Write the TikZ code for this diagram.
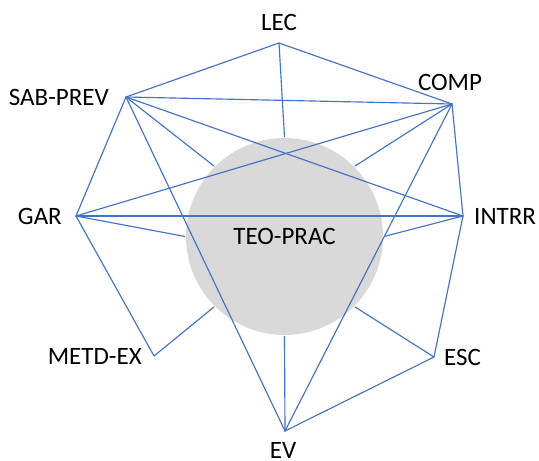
\documentclass[tikz,border=0pt]{standalone}
\usepackage{fontspec}
\setmainfont{Carlito}
\usepackage{tkz-euclide}
\definecolor{edgeblue}{HTML}{4472C4}
\definecolor{discgray}{HTML}{D9D9D9}
\tikzset{
  lbl/.style={inner sep=0pt,font=\fontsize{25}{30}\selectfont},
  edge/.style={draw=edgeblue,line width=1.15pt}
}
\begin{document}
\begin{tikzpicture}[x=1pt,y=1pt]
            \useasboundingbox (0,0) rectangle (539,461);
            \tkzDefPoints{279/418/L, 452/357/C, 463/245/I, 434/104/E,
            285/30/V, 154/105/M, 76/245/G, 126/364/S, 284.5/224.5/O}
            % central disc
            \node[circle,fill=discgray,minimum size=197pt,lbl,
              outer sep=1pt] (tp) at (O) {TEO-PRAC};
            % spokes to the disc
            \foreach \p/\a in {L/90, C/45, I/0, E/-45, V/-90, M/-135, G/180, S/135}
              \draw[edge] (\p) -- (tp.\a);
            \tkzDrawSegments[edge](S,L S,C S,I S,V S,G G,C G,I G,M
            L,C C,I C,V I,E E,V)
            \tkzLabelPoint[lbl,above=12pt](L){LEC}
            \tkzLabelPoint[lbl,above=13pt,xshift=-2pt](C){COMP}
            \tkzLabelPoint[lbl,right=11pt](I){INTRR}
            \tkzLabelPoint[lbl,right=10pt](E){ESC}
            \tkzLabelPoint[lbl,below=11pt,xshift=-2pt](V){EV}
            \tkzLabelPoint[lbl,left=12pt](M){METD-EX}
            \tkzLabelPoint[lbl,left=14pt](G){GAR}
            \tkzLabelPoint[lbl,left=17pt](S){SAB-PREV}
        \end{tikzpicture}
\end{document}
